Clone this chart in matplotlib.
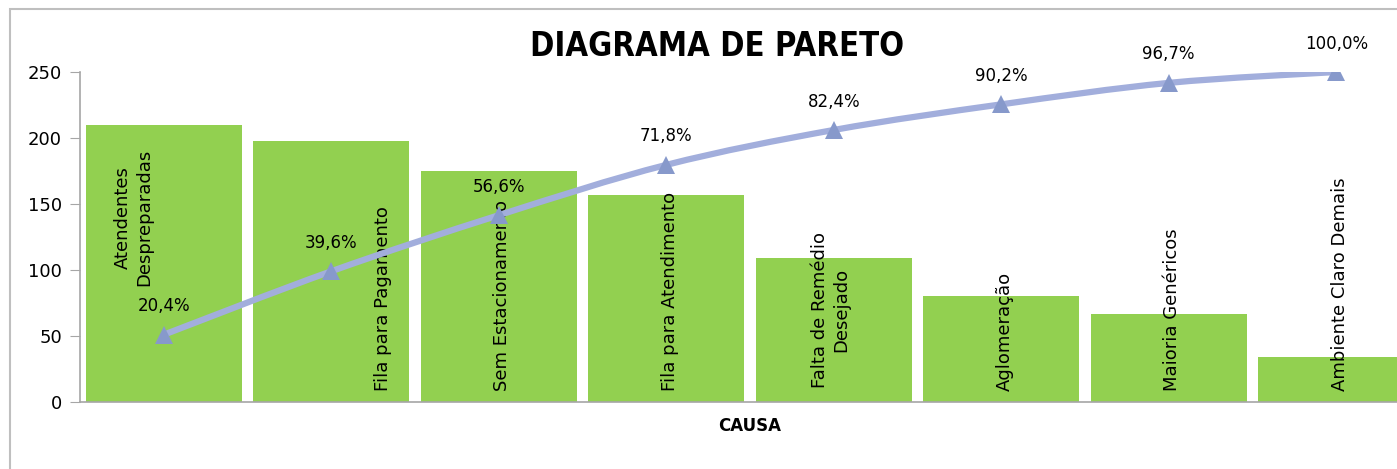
import numpy as np
import matplotlib
matplotlib.use("Agg")
import matplotlib.pyplot as plt
from matplotlib.path import Path
from matplotlib.patches import PathPatch, Rectangle
import matplotlib.patheffects as pe

# ==============================
# DATA
# ==============================
CAUSES = ["Atendentes\nDespreparadas", "Fila para Pagamento", "Sem Estacionamento",
          "Fila para Atendimento", "Falta de Remédio\nDesejado", "Aglomeração",
          "Maioria Genéricos", "Ambiente Claro Demais"]
COUNTS = [210, 198, 175, 157, 109, 80, 67, 34]

TITLE = "DIAGRAMA DE PARETO"
XLABEL = "CAUSA"
YTICKS = [0, 50, 100, 150, 200, 250]

# label placement inside bars (x offset in categories, y in counts, vertical anchor)
LABEL_DX = [-0.18, 0.31, 0.02, 0.02, -0.02, 0.02, 0.02, 0.02]
LABEL_Y = [140, 8, 8, 8, 70, 8, 8, 8]
LABEL_VA = ["center", "bottom", "bottom", "bottom", "center", "bottom", "bottom", "bottom"]

BAR_COLOR = "#92D050"
LINE_COLOR = "#A2AEDC"
MARK_COLOR = "#8799CB"
FONT = "DejaVu Sans"

cum_pct = np.cumsum(COUNTS) / np.sum(COUNTS) * 100
x = np.arange(len(COUNTS))

fig = plt.figure(figsize=(13.97, 4.69), dpi=100)
fig.patches.append(Rectangle((10 / 1397, -0.1), 1.2, 1.1 - 9 / 469, transform=fig.transFigure,
                             fill=False, edgecolor="#BFBFBF", linewidth=1.5))

ax = fig.add_axes([80 / 1397, 1 - 402 / 469, 1340 / 1397, 330 / 469])
ax.bar(x, COUNTS, width=0.93, color=BAR_COLOR, zorder=2)
ax.set_xlim(-0.5, len(COUNTS) - 0.5)
ax.set_ylim(0, 250)
ax.set_yticks(YTICKS)
ax.set_xticks([])
ax.tick_params(axis="y", length=7, color="#A6A6A6", labelsize=13, pad=6)
for lab in ax.get_yticklabels():
    lab.set_fontfamily(FONT)
for s in ["top", "right"]:
    ax.spines[s].set_visible(False)
for s in ["left", "bottom"]:
    ax.spines[s].set_color("#A6A6A6")
    ax.spines[s].set_linewidth(1.2)

for i, name in enumerate(CAUSES):
    ax.text(x[i] + LABEL_DX[i], LABEL_Y[i], name, rotation=90, ha="center",
            va=LABEL_VA[i], multialignment="center", fontsize=13, zorder=5, family=FONT)

ax.set_xlabel(XLABEL, fontsize=12, fontweight="bold", labelpad=11, family=FONT)
fig.text(717 / 1397, 1 - 46 / 469, TITLE, ha="center", va="center", fontsize=23.5,
         fontweight="bold", family=FONT, stretch="condensed")

# cumulative line on a hidden secondary scale (0-100 %)
ax2 = ax.twinx()
ax2.set_ylim(0, 100)
ax2.axis("off")

# smoothed line (Catmull-Rom style bezier, like Excel's smoothed line)
pts = np.column_stack([x, cum_pct])
verts = [pts[0]]
codes = [Path.MOVETO]
for i in range(len(pts) - 1):
    p0 = pts[max(i - 1, 0)]
    p1 = pts[i]
    p2 = pts[i + 1]
    p3 = pts[min(i + 2, len(pts) - 1)]
    c1 = p1 + (p2 - p0) / 6
    c2 = p2 - (p3 - p1) / 6
    verts += [c1, c2, p2]
    codes += [Path.CURVE4] * 3
ax2.add_patch(PathPatch(Path(verts, codes), fill=False, edgecolor=LINE_COLOR,
                        linewidth=4.5, capstyle="round", zorder=3))
ax2.plot(x, cum_pct, linestyle="none", marker="^", markersize=13, color=MARK_COLOR,
         markeredgewidth=0, zorder=4,
         path_effects=[pe.SimpleLineShadow(offset=(0, -3), alpha=0.15), pe.Normal()])

for i, v in enumerate(cum_pct):
    ax2.annotate(f"{v:.1f}%".replace(".", ","), (x[i], v), xytext=(0, 14),
                 textcoords="offset points", ha="center", va="bottom", fontsize=12,
                 zorder=6, family=FONT)

fig.savefig("out.png", dpi=100)
